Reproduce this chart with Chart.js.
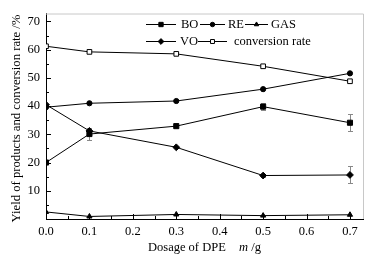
<!DOCTYPE html>
<html><head><meta charset="utf-8">
<script src="https://cdn.jsdelivr.net/npm/chart.js@4/dist/chart.umd.min.js"></script>
<style>html,body{margin:0;padding:0;background:#fff}#wrap{width:373px;height:262px}</style>
</head><body><div id="wrap"><canvas id="c" width="373" height="262"></canvas></div>
<script>
const dosage = [0.0, 0.1, 0.3, 0.5, 0.7];
const boValues = [20.0, 30.1, 32.9, 39.8, 34.1];
const boErrors = [0, 2.2, 0, 1.3, 3.0];
const reValues = [39.6, 41.0, 41.8, 46.0, 51.6];
const gasValues = [2.5, 0.9, 1.6, 1.2, 1.5];
const voValues = [40.5, 31.2, 25.4, 15.4, 15.6];
const voErrors = [0, 0, 0, 0.6, 3.0];
const convValues = [61.2, 59.2, 58.5, 54.1, 48.8];
const seriesNames = ['BO', 'RE', 'GAS', 'VO', 'conversion rate'];
const yTickValues = [10, 20, 30, 40, 50, 60, 70];
const yMinorValues = [5, 15, 25, 35, 45, 55, 65];
const xTickValues = [0.0, 0.1, 0.2, 0.3, 0.4, 0.5, 0.6, 0.7];
const xMinorValues = [0.05, 0.15, 0.25, 0.35, 0.45, 0.55, 0.65];
const yTitle = 'Yield of products and conversion rate /%';
const xTitleParts = ['Dosage of DPE', 'm', ' /g'];

const FONT = '"Liberation Serif", "DejaVu Serif", serif';
const pts = v => dosage.map((x, i) => ({x: x, y: v[i]}));

function ds(label, values, style, radius, filled) {
  return {
    label, data: pts(values), borderColor: '#000', borderWidth: 1,
    pointStyle: style, pointRadius: radius, pointHoverRadius: radius,
    pointBackgroundColor: filled ? '#000' : '#fff', pointBorderColor: '#000',
    pointBorderWidth: 1, tension: 0, clip: 0, fill: false
  };
}

const datasets = [
  ds(seriesNames[4], convValues, 'rect', 3.3, false),
  ds(seriesNames[1], reValues, 'circle', 2.6, true),
  ds(seriesNames[0], boValues, 'rect', 3.6, true),
  ds(seriesNames[3], voValues, 'rectRot', 3.4, true),
  ds(seriesNames[2], gasValues, 'triangle', 3.0, true)
];
datasets[2].errors = boErrors;
datasets[3].errors = voErrors;

const errorBars = {
  id: 'errorBars',
  beforeDatasetsDraw(chart) {
    const ctx = chart.ctx, xs = chart.scales.x, ys = chart.scales.y;
    ctx.save();
    ctx.strokeStyle = '#888'; ctx.lineWidth = 1;
    chart.data.datasets.forEach(d => {
      if (!d.errors) return;
      d.data.forEach((p, i) => {
        const e = d.errors[i]; if (!e) return;
        const x = Math.round(xs.getPixelForValue(p.x)) + 0.5;
        const y1 = ys.getPixelForValue(p.y - e), y2 = ys.getPixelForValue(p.y + e);
        ctx.beginPath();
        ctx.moveTo(x, y1); ctx.lineTo(x, y2);
        ctx.moveTo(x - 2.5, Math.round(y1) + 0.5); ctx.lineTo(x + 2.5, Math.round(y1) + 0.5);
        ctx.moveTo(x - 2.5, Math.round(y2) + 0.5); ctx.lineTo(x + 2.5, Math.round(y2) + 0.5);
        ctx.stroke();
      });
    });
    ctx.restore();
  }
};

const decor = {
  id: 'decor',
  afterDraw(chart) {
    const ctx = chart.ctx, a = chart.chartArea, xs = chart.scales.x, ys = chart.scales.y;
    ctx.save();
    ctx.strokeStyle = '#c8c8c8'; ctx.lineWidth = 1;
    ctx.beginPath();
    ctx.moveTo(a.left, a.top + 0.5); ctx.lineTo(a.right + 0.5, a.top + 0.5); ctx.lineTo(a.right + 0.5, a.bottom);
    ctx.stroke();
    ctx.strokeStyle = '#000';
    ctx.beginPath();
    yTickValues.forEach(v => { const y = Math.round(ys.getPixelForValue(v)) + 0.5; ctx.moveTo(a.left, y); ctx.lineTo(a.left + 5, y); });
    yMinorValues.forEach(v => { const y = Math.round(ys.getPixelForValue(v)) + 0.5; ctx.moveTo(a.left, y); ctx.lineTo(a.left + 3, y); });
    xTickValues.forEach(v => { const x = Math.round(xs.getPixelForValue(v)) + 0.5; ctx.moveTo(x, a.bottom); ctx.lineTo(x, a.bottom - 5); });
    xMinorValues.forEach(v => { const x = Math.round(xs.getPixelForValue(v)) + 0.5; ctx.moveTo(x, a.bottom); ctx.lineTo(x, a.bottom - 3); });
    ctx.stroke();
    ctx.fillStyle = '#000';
    ctx.font = '12.7px ' + FONT;
    ctx.textAlign = 'center'; ctx.textBaseline = 'middle';
    ctx.save(); ctx.translate(17, 118.5); ctx.rotate(-Math.PI / 2); ctx.fillText(yTitle, 0, 0); ctx.restore();
    ctx.textAlign = 'left';
    ctx.font = '12.5px ' + FONT;
    ctx.fillText(xTitleParts[0], 148, 248);
    ctx.font = 'italic 12.5px ' + FONT;
    ctx.fillText(xTitleParts[1], 239, 248);
    const mw = ctx.measureText(xTitleParts[1]).width;
    ctx.font = '12.5px ' + FONT;
    ctx.fillText(xTitleParts[2], 239 + mw, 248);
    const items = [
      {name: seriesNames[0], ds: datasets[2], x0: 146, x1: 176, tx: 181, y: 24},
      {name: seriesNames[1], ds: datasets[1], x0: 200, x1: 225, tx: 228, y: 24},
      {name: seriesNames[2], ds: datasets[4], x0: 245, x1: 268, tx: 271, y: 24},
      {name: seriesNames[3], ds: datasets[3], x0: 146, x1: 176, tx: 180, y: 41},
      {name: seriesNames[4], ds: datasets[0], x0: 198, x1: 227, tx: 234, y: 41}
    ];
    items.forEach(it => {
      const y = it.y + 0.5;
      ctx.strokeStyle = '#000'; ctx.lineWidth = 1;
      ctx.beginPath(); ctx.moveTo(it.x0, y); ctx.lineTo(it.x1, y); ctx.stroke();
      ctx.fillStyle = it.ds.pointBackgroundColor; ctx.strokeStyle = '#000';
      Chart.helpers.drawPoint(ctx, {pointStyle: it.ds.pointStyle, radius: it.ds.pointRadius * 0.85, borderWidth: 1, rotation: 0}, (it.x0 + it.x1) / 2, y);
      ctx.fillStyle = '#000';
      ctx.font = '12.5px ' + FONT; ctx.textBaseline = 'middle'; ctx.textAlign = 'left';
      ctx.fillText(it.name, it.tx, it.y + 1);
    });
    ctx.restore();
  }
};

new Chart(document.getElementById('c'), {
  type: 'line',
  data: {datasets},
  options: {
    responsive: false, animation: false, devicePixelRatio: 1,
    layout: {padding: {left: 0, right: 10, top: 12, bottom: 0}},
    plugins: {legend: {display: false}, tooltip: {enabled: false}},
    scales: {
      x: {
        type: 'linear', min: 0, max: 0.73,
        grid: {display: true, drawOnChartArea: false, drawTicks: false},
        border: {display: true, color: '#000', width: 1},
        ticks: {stepSize: 0.1, includeBounds: false, padding: 5, color: '#000',
          font: {family: FONT, size: 12.5}, maxRotation: 0,
          callback: v => (Math.round(v * 10) / 10).toFixed(1)},
        afterFit: s => { s.height = 43; }
      },
      y: {
        min: 0, max: 72.8,
        grid: {display: true, drawOnChartArea: false, drawTicks: false},
        border: {display: true, color: '#000', width: 1},
        ticks: {stepSize: 10, includeBounds: false, padding: 6, color: '#000',
          font: {family: FONT, size: 12.5},
          callback: v => v === 0 ? '' : String(v)},
        afterFit: s => { s.width = 46; }
      }
    }
  },
  plugins: [errorBars, decor]
});
</script></body></html>
